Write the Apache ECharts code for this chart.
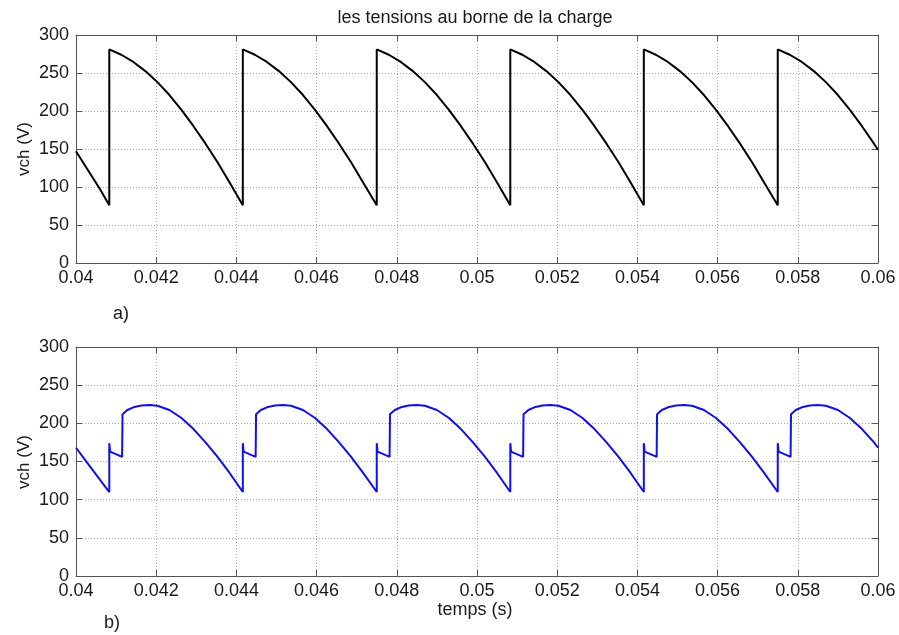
<!DOCTYPE html>
<html>
<head>
<meta charset="utf-8">
<script src="https://cdn.jsdelivr.net/npm/echarts@6/dist/echarts.min.js"></script>
<style>
html,body{margin:0;padding:0;background:#fff;}
#chart{width:899px;height:635px;}
</style>
</head>
<body>
<div id="chart"></div>
<script>
// ---- data ----
const titleText = 'les tensions au borne de la charge';
const yAxisLabel = 'vch (V)';
const xAxisLabel = 'temps (s)';
const panelLabels = ['a)', 'b)'];
const xMin = 0.04, xMax = 0.06, xStep = 0.002;
const yMin = 0, yMax = 300, yStep = 50;

// a) load voltage (black)
const topTime = [
  0.04, 0.0403, 0.0406, 0.04083,
  0.04083, 0.04113, 0.04143, 0.04173, 0.04203, 0.04233, 0.04263, 0.04293, 0.04323, 0.04353, 0.04383, 0.04416,
  0.04416, 0.04446, 0.04476, 0.04506, 0.04536, 0.04566, 0.04596, 0.04626, 0.04656, 0.04686, 0.04716, 0.04750,
  0.04750, 0.04780, 0.04810, 0.04840, 0.04870, 0.04900, 0.04930, 0.04960, 0.04990, 0.05020, 0.05050, 0.05083,
  0.05083, 0.05113, 0.05143, 0.05173, 0.05203, 0.05233, 0.05263, 0.05293, 0.05323, 0.05353, 0.05383, 0.05416,
  0.05416, 0.05446, 0.05476, 0.05506, 0.05536, 0.05566, 0.05596, 0.05626, 0.05656, 0.05686, 0.05716, 0.05750,
  0.05750, 0.05780, 0.05810, 0.05840, 0.05870, 0.05900, 0.05930, 0.05960, 0.05990, 0.06
];
const topVolt = [
  147, 122, 97, 76,
  281, 274, 264.5, 252.5, 238, 221, 201.5, 180, 157, 132.5, 106, 76,
  281, 274, 264.5, 252.5, 238, 221, 201.5, 180, 157, 132.5, 106, 76,
  281, 274, 264.5, 252.5, 238, 221, 201.5, 180, 157, 132.5, 106, 76,
  281, 274, 264.5, 252.5, 238, 221, 201.5, 180, 157, 132.5, 106, 76,
  281, 274, 264.5, 252.5, 238, 221, 201.5, 180, 157, 132.5, 106, 76,
  281, 274, 264.5, 252.5, 238, 221, 201.5, 180, 157, 149
];

// b) load voltage (blue)
const botTime = [
  0.04, 0.0403, 0.0406, 0.04083,
  0.04083, 0.04085, 0.04115, 0.04116, 0.04128, 0.04143, 0.04163, 0.04183, 0.04203, 0.04233, 0.04263, 0.04293, 0.04323, 0.04353, 0.04383, 0.04416,
  0.04416, 0.04418, 0.04448, 0.04449, 0.04461, 0.04476, 0.04496, 0.04516, 0.04536, 0.04566, 0.04596, 0.04626, 0.04656, 0.04686, 0.04716, 0.04750,
  0.04750, 0.04752, 0.04782, 0.04783, 0.04795, 0.04810, 0.04830, 0.04850, 0.04870, 0.04900, 0.04930, 0.04960, 0.04990, 0.05020, 0.05050, 0.05083,
  0.05083, 0.05085, 0.05115, 0.05116, 0.05128, 0.05143, 0.05163, 0.05183, 0.05203, 0.05233, 0.05263, 0.05293, 0.05323, 0.05353, 0.05383, 0.05416,
  0.05416, 0.05418, 0.05448, 0.05449, 0.05461, 0.05476, 0.05496, 0.05516, 0.05536, 0.05566, 0.05596, 0.05626, 0.05656, 0.05686, 0.05716, 0.05750,
  0.05750, 0.05752, 0.05782, 0.05783, 0.05795, 0.05810, 0.05830, 0.05850, 0.05870, 0.05900, 0.05930, 0.05960, 0.05990, 0.06
];
const botVolt = [
  168, 147, 126, 110,
  174, 163, 156, 212, 217.5, 221, 223.3, 224, 223, 217.5, 207, 192.5, 175, 156, 135, 110,
  174, 163, 156, 212, 217.5, 221, 223.3, 224, 223, 217.5, 207, 192.5, 175, 156, 135, 110,
  174, 163, 156, 212, 217.5, 221, 223.3, 224, 223, 217.5, 207, 192.5, 175, 156, 135, 110,
  174, 163, 156, 212, 217.5, 221, 223.3, 224, 223, 217.5, 207, 192.5, 175, 156, 135, 110,
  174, 163, 156, 212, 217.5, 221, 223.3, 224, 223, 217.5, 207, 192.5, 175, 156, 135, 110,
  174, 163, 156, 212, 217.5, 221, 223.3, 224, 223, 217.5, 207, 192.5, 175, 168
];

// ---- chart ----
const FONT = '"Liberation Sans", Arial, Helvetica, sans-serif';
const TXT = '#1a1a1a';
const frameColor = '#555555';
const gridColor = '#a8a8a8';

function zip(a, b) { return a.map((v, i) => [v, b[i]]); }
function fmtX(v) { return String(+v.toFixed(3)); }

function xAxes(gi) {
  return [
    {
      type: 'value', gridIndex: gi, min: xMin, max: xMax, interval: xStep, position: 'bottom',
      axisLine: { show: true, onZero: false, lineStyle: { color: frameColor, width: 1 } },
      axisTick: { show: true, inside: true, length: 6, lineStyle: { color: frameColor } },
      axisLabel: { show: true, formatter: fmtX, color: TXT, fontSize: 18, fontFamily: FONT, margin: 6 },
      splitLine: { show: true, lineStyle: { color: gridColor, type: [1, 2], width: 1 } }
    },
    {
      type: 'value', gridIndex: gi, min: xMin, max: xMax, interval: xStep, position: 'top',
      axisLine: { show: true, onZero: false, lineStyle: { color: frameColor, width: 1 } },
      axisTick: { show: true, inside: true, length: 6, lineStyle: { color: frameColor } },
      axisLabel: { show: false },
      splitLine: { show: false }
    }
  ];
}
function yAxes(gi) {
  return [
    {
      type: 'value', gridIndex: gi, min: yMin, max: yMax, interval: yStep, position: 'left',
      axisLine: { show: true, onZero: false, lineStyle: { color: frameColor, width: 1 } },
      axisTick: { show: true, inside: true, length: 6, lineStyle: { color: frameColor } },
      axisLabel: { show: true, color: TXT, fontSize: 18, fontFamily: FONT, margin: 7 },
      splitLine: { show: true, lineStyle: { color: gridColor, type: [1, 2], width: 1 } }
    },
    {
      type: 'value', gridIndex: gi, min: yMin, max: yMax, interval: yStep, position: 'right',
      axisLine: { show: true, onZero: false, lineStyle: { color: frameColor, width: 1 } },
      axisTick: { show: true, inside: true, length: 6, lineStyle: { color: frameColor } },
      axisLabel: { show: false },
      splitLine: { show: false }
    }
  ];
}

const chart = echarts.init(document.getElementById('chart'), null, { renderer: 'canvas' });
chart.setOption({
  backgroundColor: '#ffffff',
  animation: false,
  grid: [
    { left: 76, right: 21, top: 35, height: 228 },
    { left: 76, right: 21, top: 347, height: 229 }
  ],
  xAxis: [...xAxes(0), ...xAxes(1)],
  yAxis: [...yAxes(0), ...yAxes(1)],
  graphic: [
    { type: 'text', x: 475, y: 18, style: { text: titleText, fontSize: 18, fontFamily: FONT, fill: TXT, align: 'center', verticalAlign: 'middle' } },
    { type: 'text', x: 24, y: 149, rotation: Math.PI / 2, style: { text: yAxisLabel, fontSize: 17, fontFamily: FONT, fill: TXT, align: 'center', verticalAlign: 'middle' } },
    { type: 'text', x: 24, y: 462, rotation: Math.PI / 2, style: { text: yAxisLabel, fontSize: 17, fontFamily: FONT, fill: TXT, align: 'center', verticalAlign: 'middle' } },
    { type: 'text', x: 121, y: 314, style: { text: panelLabels[0], fontSize: 18, fontFamily: FONT, fill: TXT, align: 'center', verticalAlign: 'middle' } },
    { type: 'text', x: 112, y: 623, style: { text: panelLabels[1], fontSize: 18, fontFamily: FONT, fill: TXT, align: 'center', verticalAlign: 'middle' } },
    { type: 'text', x: 475, y: 610, style: { text: xAxisLabel, fontSize: 18, fontFamily: FONT, fill: TXT, align: 'center', verticalAlign: 'middle' } }
  ],
  series: [
    {
      type: 'line', xAxisIndex: 0, yAxisIndex: 0, data: zip(topTime, topVolt),
      showSymbol: false, symbol: 'none', lineStyle: { color: '#000000', width: 2 }, z: 5
    },
    {
      type: 'line', xAxisIndex: 2, yAxisIndex: 2, data: zip(botTime, botVolt),
      showSymbol: false, symbol: 'none', lineStyle: { color: '#1010e8', width: 2 }, z: 5
    }
  ]
});
</script>
</body>
</html>
